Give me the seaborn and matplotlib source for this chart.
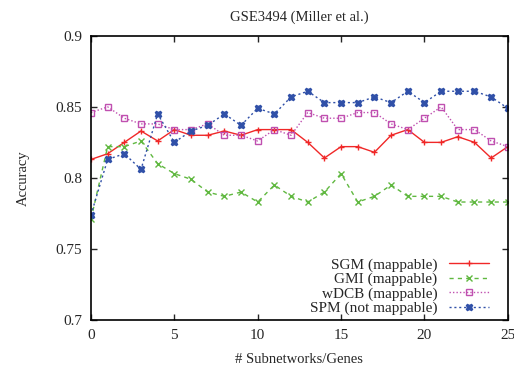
import numpy as np
import pandas as pd
import matplotlib
matplotlib.use("Agg")
import matplotlib.pyplot as plt
import seaborn as sns

# number of subnetworks/genes
x = list(range(26))

sgm = [0.813, 0.817, 0.825, 0.833, 0.826, 0.834, 0.830, 0.830, 0.833, 0.830,
       0.834, 0.834, 0.834, 0.825, 0.814, 0.822, 0.822, 0.818, 0.830, 0.834,
       0.825, 0.825, 0.829, 0.825, 0.814, 0.822]
gmi = [0.771, 0.822, 0.822, 0.826, 0.810, 0.803, 0.799, 0.790, 0.787, 0.790,
       0.783, 0.795, 0.787, 0.783, 0.790, 0.803, 0.783, 0.787, 0.795, 0.787,
       0.787, 0.787, 0.783, 0.783, 0.783, 0.783]
wdcb = [0.846, 0.850, 0.842, 0.838, 0.838, 0.834, 0.834, 0.838, 0.830, 0.830,
        0.826, 0.834, 0.830, 0.846, 0.842, 0.842, 0.846, 0.846, 0.838, 0.834,
        0.842, 0.850, 0.834, 0.834, 0.826, 0.822]
spm = [0.774, 0.813, 0.817, 0.806, 0.845, 0.825, 0.833, 0.837, 0.845, 0.837,
       0.849, 0.845, 0.857, 0.861, 0.853, 0.853, 0.853, 0.857, 0.853, 0.861,
       0.853, 0.861, 0.861, 0.861, 0.857, 0.849]

labels = ["SGM (mappable)", "GMI (mappable)", "wDCB (mappable)", "SPM (not mappable)"]

sns.set_style("ticks")
plt.rcParams["font.family"] = ["Liberation Serif", "DejaVu Serif"]

fig = plt.figure(figsize=(5.14, 3.66), dpi=100)
ax = fig.add_axes([0.177, 0.126, 0.811, 0.776])

# (values, colour, linestyle, marker, marker face)
styles = [
    (sgm, "#f02828", "-", "+", "none"),
    (gmi, "#60b840", (0, (3, 3)), "x", "none"),
    (wdcb, "#c050b0", (0, (1, 1.5)), "s", "none"),
    (spm, "#3050a8", (0, (1.5, 2)), "X", "#3050a8"),
]

for (vals, col, ls, mk, mfc), lab in zip(styles, labels):
    df = pd.DataFrame({"x": x, "acc": vals})
    sns.lineplot(data=df, x="x", y="acc", ax=ax, color=col, linestyle=ls,
                 marker=mk, markersize=5, markerfacecolor=mfc,
                 markeredgecolor=col, markeredgewidth=1, linewidth=1, label=lab)

ax.set_xlim(0, 25)
ax.set_ylim(0.7, 0.9)
ax.set_xticks([0, 5, 10, 15, 20, 25])
ax.set_yticks([0.7, 0.75, 0.8, 0.85, 0.9])
ax.set_yticklabels(["0.7", "0.75", "0.8", "0.85", "0.9"])
ax.tick_params(direction="in", top=True, right=True, labelsize=11, length=4,
               width=1, pad=6.5)
for s in ax.spines.values():
    s.set_linewidth(1.2)
    s.set_color("black")

ax.set_xlabel("# Subnetworks/Genes", fontsize=10.5, labelpad=8)
ax.set_ylabel("Accuracy", fontsize=10.5, labelpad=18)
ax.set_title("GSE3494 (Miller et al.)", fontsize=10.5, pad=11)

leg = ax.legend(loc="lower right", bbox_to_anchor=(0.97, -0.006), frameon=False,
                markerfirst=False, fontsize=11, handlelength=2.6,
                labelspacing=0.05, borderaxespad=0, handletextpad=0.8)

fig.savefig("out.png", dpi=100)
